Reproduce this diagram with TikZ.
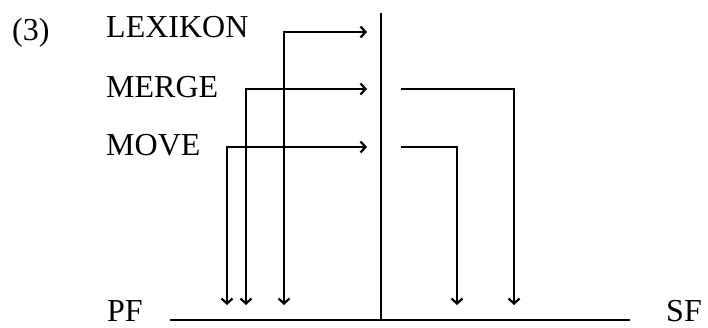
\documentclass[tikz,border=0pt]{standalone}
\usepackage{fontspec}
\setmainfont{Liberation Serif}
\usetikzlibrary{arrows.meta}
\begin{document}
\begin{tikzpicture}[x=1pt,y=-1pt,
  lbl/.style={anchor=base west,inner sep=0pt,font=\fontsize{32}{37}\selectfont},
  rule/.style={line width=1.2pt},
  barb/.tip={Straight Barb[length=5pt,width=11pt,line width=2.2pt]},
  route/.style={line width=1.4pt,arrows={-barb}},
  twoway/.style={line width=1.4pt,arrows={barb-barb}}]
\useasboundingbox (0,0) rectangle (708,327);

% labels
\node[lbl] (num) at (12,40) {(3)};
\node[lbl] (lex) at (106,37) {LEXIKON};
\node[lbl] (mrg) at (106,97) {MERGE};
\node[lbl] (mov) at (106,155) {MOVE};
\node[lbl] (pf)  at (107,321) {PF};
\node[lbl] (sf)  at (666,321) {SF};

% axes
\coordinate (top) at (381,13);
\coordinate (mid) at (381,320);
\coordinate (lend) at (170,320);
\coordinate (rend) at (630,320);
\draw[rule] (top) -- (mid);
\draw[rule] (lend) -- (rend);

% corner points of the routes
\coordinate (lexR) at (367,32);
\coordinate (lexC) at (284,32);
\coordinate (lexD) at (284,305);
\coordinate (mrgR) at (367,89);
\coordinate (mrgC) at (246,89);
\coordinate (mrgD) at (246,305);
\coordinate (movR) at (367,147);
\coordinate (movC) at (227,147);
\coordinate (movD) at (227,305);
\coordinate (mrgS) at (401,89);
\coordinate (mrgT) at (514,89);
\coordinate (mrgE) at (514,305);
\coordinate (movS) at (401,147);
\coordinate (movT) at (457,147);
\coordinate (movE) at (457,305);

% routes to the central line and down to PF
\draw[twoway] (lexR) -- (lexC) -- (lexD);
\draw[twoway] (mrgR) -- (mrgC) -- (mrgD);
\draw[twoway] (movR) -- (movC) -- (movD);

% routes down to SF
\draw[route] (mrgS) -- (mrgT) -- (mrgE);
\draw[route] (movS) -- (movT) -- (movE);
\end{tikzpicture}
\end{document}
